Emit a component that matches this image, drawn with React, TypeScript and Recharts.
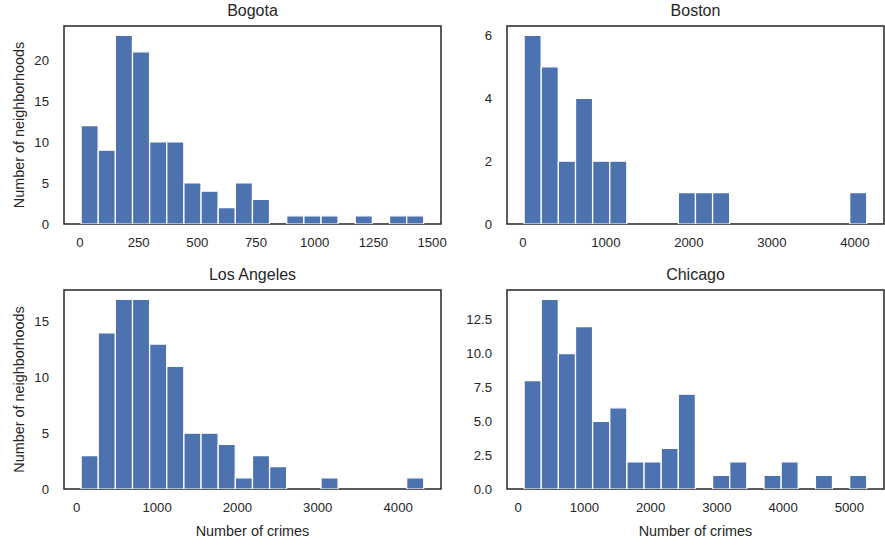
import { BarChart, Bar, XAxis, YAxis, ReferenceArea } from "recharts";

// ─── data (20 equal-width bins per city) ────────────────────────────────────
const bogotaCounts = [12, 9, 23, 21, 10, 10, 5, 4, 2, 5, 3, 0, 1, 1, 1, 0, 1, 0, 1, 1];
const bostonCounts = [6, 5, 2, 4, 2, 2, 0, 0, 0, 1, 1, 1, 0, 0, 0, 0, 0, 0, 0, 1];
const laCounts = [3, 14, 17, 17, 13, 11, 5, 5, 4, 1, 3, 2, 0, 0, 1, 0, 0, 0, 0, 1];
const chicagoCounts = [8, 14, 10, 12, 5, 6, 2, 2, 3, 7, 0, 1, 2, 0, 1, 2, 0, 1, 0, 1];

// smallest / largest number of crimes in each city (histogram range)
const bogotaRange = [5, 1465];
const bostonRange = [15, 4145];
const laRange = [55, 4320];
const chicagoRange = [90, 5265];

const bogotaXTicks = [0, 250, 500, 750, 1000, 1250, 1500];
const bostonXTicks = [0, 1000, 2000, 3000, 4000];
const laXTicks = [0, 1000, 2000, 3000, 4000];
const chicagoXTicks = [0, 1000, 2000, 3000, 4000, 5000];

const bogotaYTicks = [0, 5, 10, 15, 20];
const bostonYTicks = [0, 2, 4, 6];
const laYTicks = [0, 5, 10, 15];
const chicagoYTicks = [0, 2.5, 5, 7.5, 10, 12.5];

const FONT = "'Liberation Sans', Arial, sans-serif";
const INK = "#262626";
const BAR = "#4c72b0";
const tickStyle = { fill: INK, fontSize: 13.2, fontFamily: FONT };

function toBins(counts: number[], range: number[]) {
  const w = (range[1] - range[0]) / counts.length;
  return counts.map((c, i) => ({ mid: range[0] + w * (i + 0.5), count: c }));
}

interface PanelProps {
  title: string;
  counts: number[];
  range: number[];
  xTicks: number[];
  yTicks: number[];
  yFmt?: (v: number) => string;
  left: number;
  top: number;
  height: number;
  xAxisH: number;
  yLabel?: boolean;
  xLabel?: boolean;
}

function Panel({ title, counts, range, xTicks, yTicks, yFmt, left, top, height, xAxisH, yLabel, xLabel }: PanelProps) {
  const data = toBins(counts, range);
  const pad = (range[1] - range[0]) * 0.05;
  const xDomain = [range[0] - pad, range[1] + pad];
  const yMax = Math.max(...counts) * 1.05;
  return (
    <div style={{ position: "absolute", left, top }}>
      <BarChart width={462} height={height} data={data} margin={{ top: 26, right: 21, bottom: 0, left: 0 }} barCategoryGap={0} barGap={0}>
        <Bar xAxisId="b" yAxisId="l" dataKey="count" fill={BAR} stroke="#fff" strokeWidth={1.2} isAnimationActive={false} />
        <XAxis
          xAxisId="b" type="number" dataKey="mid" domain={xDomain} allowDataOverflow ticks={xTicks} interval={0}
          height={xAxisH} tickLine={false} tickSize={0} tickMargin={14} axisLine={false} tick={tickStyle}
          label={xLabel ? { value: "Number of crimes", position: "insideBottom", offset: 9, fill: INK, fontSize: 14.4, fontFamily: FONT } : undefined}
        />
        <YAxis
          yAxisId="l" type="number" domain={[0, yMax]} allowDataOverflow ticks={yTicks} interval={0} width={64}
          tickLine={false} tickSize={0} tickMargin={15} axisLine={false} tick={tickStyle}
          tickFormatter={yFmt}
          label={yLabel ? { value: "Number of neighborhoods", angle: -90, position: "center", dx: -13.5, fill: INK, fontSize: 14.4, fontFamily: FONT } : undefined}
        />
        <ReferenceArea
          xAxisId="b" yAxisId="l" x1={xDomain[0]} x2={xDomain[1]} y1={0} y2={yMax}
          fill="none" fillOpacity={0} stroke={INK} strokeWidth={1.5} ifOverflow="extendDomain"
          label={{ value: title, position: "top", offset: 10, fill: INK, fontSize: 16, fontFamily: FONT }}
        />
      </BarChart>
    </div>
  );
}

export default function App() {
  return (
    <div style={{ position: "absolute", left: 0, top: 0, width: 885, height: 545, background: "#fff", overflow: "hidden" }}>
      <Panel title="Bogota" counts={bogotaCounts} range={bogotaRange} xTicks={bogotaXTicks} yTicks={bogotaYTicks}
        left={0} top={0} height={260} xAxisH={36} yLabel />
      <Panel title="Boston" counts={bostonCounts} range={bostonRange} xTicks={bostonXTicks} yTicks={bostonYTicks}
        left={443} top={0} height={260} xAxisH={36} />
      <Panel title="Los Angeles" counts={laCounts} range={laRange} xTicks={laXTicks} yTicks={laYTicks}
        left={0} top={264} height={281} xAxisH={56} yLabel xLabel />
      <Panel title="Chicago" counts={chicagoCounts} range={chicagoRange} xTicks={chicagoXTicks} yTicks={chicagoYTicks}
        yFmt={(v: number) => v.toFixed(1)} left={443} top={264} height={281} xAxisH={56} xLabel />
    </div>
  );
}
